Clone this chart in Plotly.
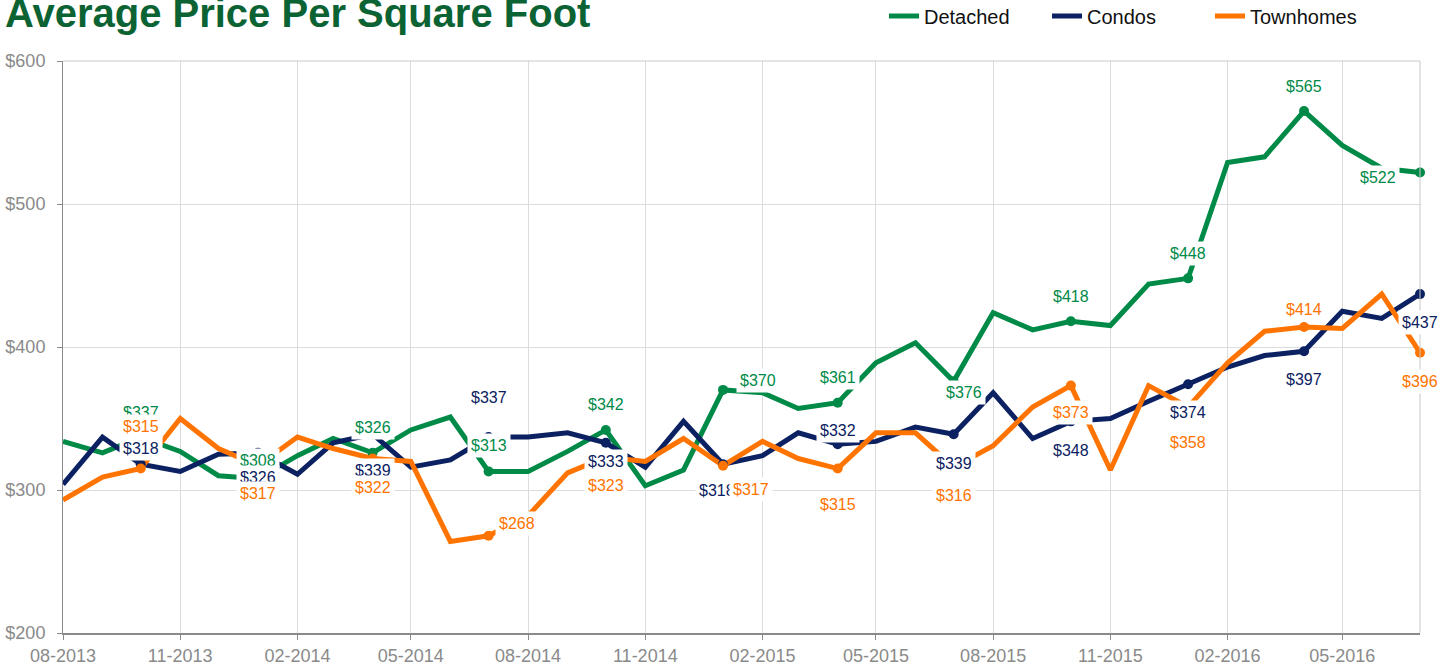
import plotly.graph_objects as go

months = ["2013-08-01","2013-09-01","2013-10-01","2013-11-01","2013-12-01",
          "2014-01-01","2014-02-01","2014-03-01","2014-04-01","2014-05-01","2014-06-01","2014-07-01",
          "2014-08-01","2014-09-01","2014-10-01","2014-11-01","2014-12-01",
          "2015-01-01","2015-02-01","2015-03-01","2015-04-01","2015-05-01","2015-06-01","2015-07-01",
          "2015-08-01","2015-09-01","2015-10-01","2015-11-01","2015-12-01",
          "2016-01-01","2016-02-01","2016-03-01","2016-04-01","2016-05-01","2016-06-01","2016-07-01"]

detached = [334, 326, 337, 327, 310, 308, 324, 336, 326, 342, 351, 313,
            313, 327, 342, 303, 314, 370, 368, 357, 361, 389, 403, 376,
            424, 412, 418, 415, 444, 448, 529, 533, 565, 541, 525, 522]
condos = [304, 337, 318, 313, 325, 326, 311, 333, 339, 316, 321, 337,
          337, 340, 333, 316, 348, 318, 324, 340, 332, 334, 344, 339,
          368, 336, 348, 350, 362, 374, 386, 394, 397, 425, 420, 437]
townhomes = [293, 309, 315, 350, 329, 317, 337, 329, 322, 320, 264, 268,
             282, 312, 323, 320, 336, 317, 334, 322, 315, 340, 340, 316,
             331, 358, 373, 314, 373, 358, 389, 411, 414, 413, 437, 396]

labeled = [2, 5, 8, 11, 14, 17, 20, 23, 26, 29, 32, 35]

# label offsets (xshift, yshift) in pixels -- styling only
off_det = [(0, 25), (0, 18), (0, 25), (0, 26), (0, 25), (35, 9), (0, 25), (10, -11), (0, 25), (0, 25), (0, 25), (-42, -5)]
off_con = [(0, 16), (0, -25), (0, -36), (0, 40), (0, -19), (-6, -26), (0, 14), (0, -29), (0, -29), (0, -28), (0, -28), (0, -28)]
off_twn = [(0, 42), (0, -28), (0, -29), (28, 12), (0, -28), (28, -24), (0, -36), (0, -28), (0, -27), (0, -35), (0, 17), (0, -29)]

GREEN = "#008a48"
NAVY = "#0b2161"
ORANGE = "#ff7400"
FONT = "Liberation Sans, Arial, Helvetica, sans-serif"

W, H = 1455, 667
ML, MR, MT, MB = 63, 35, 61, 34
PW, PH = W - ML - MR, H - MT - MB

series = [("Detached", detached, GREEN, off_det),
          ("Condos", condos, NAVY, off_con),
          ("Townhomes", townhomes, ORANGE, off_twn)]

fig = go.Figure()
for name, vals, col, _ in series:
    fig.add_trace(go.Scatter(
        x=months, y=vals, name=name, mode="lines",
        line=dict(color=col, width=5), cliponaxis=False))
for name, vals, col, _ in series:
    fig.add_trace(go.Scatter(
        x=[months[i] for i in labeled], y=[vals[i] for i in labeled],
        mode="markers", marker=dict(color=col, size=10), showlegend=False,
        hoverinfo="skip", cliponaxis=False))

annotations = []
for name, vals, col, offs in series:
    for i, (dx, dy) in zip(labeled, offs):
        annotations.append(dict(
            x=months[i], y=vals[i], xref="x", yref="y",
            text="$%d" % vals[i], showarrow=False,
            xshift=dx, yshift=dy, bgcolor="white", borderpad=3,
            font=dict(family=FONT, size=16, color=col)))

annotations.append(dict(
    text="<b>Average Price Per Square Foot</b>", xref="paper", yref="paper",
    x=-ML / PW, xshift=3, xanchor="left", y=(PH + MT - 13) / PH, yanchor="middle",
    showarrow=False, font=dict(family=FONT, size=40, color="#0b6233")))

shapes = [
    dict(type="line", xref="paper", yref="paper", x0=0, x1=1, y0=1, y1=1,
         line=dict(color="#c8c8c8", width=1)),
    dict(type="line", xref="paper", yref="paper", x0=1, x1=1, y0=0, y1=1,
         line=dict(color="#c8c8c8", width=1)),
]

fig.update_layout(
    width=W, height=H,
    margin=dict(l=ML, r=MR, t=MT, b=MB, autoexpand=False),
    paper_bgcolor="white", plot_bgcolor="white",
    font=dict(family=FONT),
    showlegend=True,
    legend=dict(orientation="h", xref="container", yref="container",
                x=884 / W, xanchor="left", y=1 - 16 / H, yanchor="middle",
                font=dict(family=FONT, size=20, color="#111111"),
                entrywidth=118, entrywidthmode="pixels", bgcolor="rgba(0,0,0,0)"),
    annotations=annotations,
    shapes=shapes,
    hovermode=False,
)
fig.update_xaxes(
    type="date", range=["2013-08-01", "2016-07-01"], tick0="2013-08-01", dtick="M3",
    tickformat="%m-%Y", showgrid=True, gridcolor="#dcdcdc", gridwidth=1,
    showline=True, linecolor="#8a8a8a", linewidth=2, ticks="outside", ticklen=5,
    tickcolor="#8a8a8a", tickfont=dict(family=FONT, size=18, color="#8a8a8a"),
    zeroline=False)
fig.update_yaxes(
    range=[200, 600], dtick=100, tickprefix="$", showgrid=True, gridcolor="#dcdcdc",
    gridwidth=1, showline=True, linecolor="#8a8a8a", linewidth=1, ticks="outside",
    ticklen=5, tickcolor="#8a8a8a", tickfont=dict(family=FONT, size=18, color="#8a8a8a"),
    ticklabelstandoff=8, zeroline=False)

fig.write_html("out.html", config={"displayModeBar": False},
               post_script="document.body.style.margin='0';")
